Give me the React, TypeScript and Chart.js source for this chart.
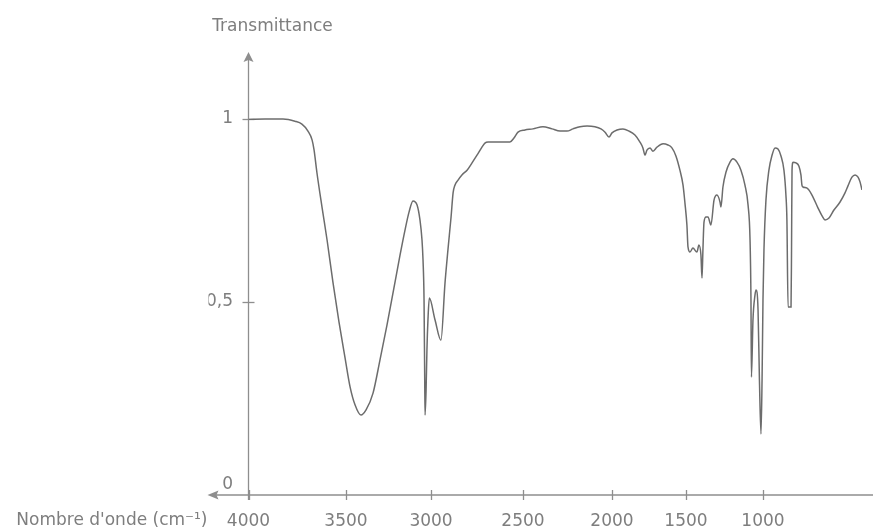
import React, { useEffect, useRef } from 'react';
import { Chart, LinearScale, registerables } from 'chart.js';

// ---- Data ----
const WAVENUMBERS = [
  4000, 3915, 3823, 3762, 3726, 3695, 3674, 3664, 3649, 3623, 3597, 3567, 3536, 3505, 3476, 3447, 3412,
  3382, 3341, 3300, 3259, 3218, 3182, 3153, 3129, 3106,
  3082, 3065, 3053, 3047, 3041, 3037, 3035, 3029, 3024, 3018,
  3010, 2978, 2946, 2924, 2908, 2891, 2880, 2870, 2853, 2832, 2804, 2777, 2750, 2723, 2707, 2690, 2625, 2571,
  2549, 2527, 2489, 2444, 2388, 2337, 2292, 2253, 2219, 2180, 2140, 2096, 2062, 2039, 2017, 2000, 1966, 1926,
  1885, 1845, 1811, 1791, 1777, 1764, 1743, 1723, 1696, 1655, 1622, 1595, 1568, 1541, 1520, 1507, 1494, 1487,
  1474, 1455, 1429, 1416, 1403, 1396, 1390, 1383, 1370, 1357, 1338, 1318, 1299, 1279, 1273, 1260, 1240, 1214,
  1195, 1169, 1143, 1117, 1097, 1084, 1078, 1075, 1065, 1052, 1045, 1032, 1023, 1013, 1006, 1000, 994, 982,
  964, 945, 927, 909, 891, 873, 861, 855, 848, 830, 827, 824, 818, 800, 782, 770, 764, 758, 733, 703, 667, 642,
  624, 600, 570, 533, 503, 485, 461, 442, 424, 412, 400,
];
const TRANSMITTANCE = [
  0.999, 1.0, 1.0, 0.994, 0.986, 0.967, 0.943, 0.916, 0.853, 0.759, 0.669, 0.554, 0.445, 0.347, 0.267, 0.218, 0.19,
  0.204, 0.25, 0.341, 0.436, 0.538, 0.628, 0.696, 0.746, 0.776,
  0.765, 0.724, 0.669, 0.614, 0.505, 0.286, 0.19, 0.258, 0.368, 0.45,
  0.51, 0.45, 0.395, 0.551, 0.642, 0.732, 0.798, 0.819, 0.833, 0.847, 0.86, 0.88, 0.901, 0.923, 0.934, 0.937, 0.937, 0.937,
  0.948, 0.964, 0.97, 0.973, 0.979, 0.973, 0.967, 0.967, 0.973, 0.979, 0.981, 0.979, 0.973, 0.964, 0.951, 0.962, 0.97, 0.973,
  0.967, 0.956, 0.937, 0.921, 0.901, 0.915, 0.921, 0.912, 0.923, 0.932, 0.929, 0.921, 0.899, 0.86, 0.819, 0.77, 0.71, 0.65,
  0.636, 0.647, 0.636, 0.655, 0.628, 0.565, 0.642, 0.718, 0.732, 0.732, 0.71, 0.778, 0.792, 0.773, 0.759, 0.814, 0.855, 0.882,
  0.891, 0.882, 0.86, 0.819, 0.765, 0.669, 0.505, 0.294, 0.45, 0.518, 0.532, 0.477, 0.286, 0.138, 0.286, 0.505, 0.642, 0.778,
  0.86, 0.901, 0.921, 0.918, 0.899, 0.86, 0.792, 0.724, 0.486, 0.486, 0.642, 0.86, 0.882, 0.88, 0.871, 0.847, 0.819, 0.814, 0.811, 0.792, 0.757, 0.735,
  0.724, 0.729, 0.751, 0.773, 0.798, 0.817, 0.841, 0.847, 0.841, 0.828, 0.806,
];

const X_TICKS = [4000, 3500, 3000, 2500, 2000, 1500, 1000];
const X_TICK_LABELS = ['4000', '3500', '3000', '2500', '2000', '1500', '1000'];
const Y_TICKS = [0, 0.5, 1];
const Y_TICK_LABELS = ['0', '0,5', '1'];
const X_TITLE = "Nombre d'onde (cm\u207B\u00B9)";
const Y_TITLE = 'Transmittance';

// The printed wavenumber axis is not strictly linear: breakpoints and their
// fractional position along the axis.
const WARP_WAVE = [4000, 3500, 3000, 2500, 2000, 1500, 1000, 400];
const WARP_FRAC = [0, 0.1589, 0.2975, 0.4474, 0.5925, 0.7131, 0.8386, 1];

function waveToFrac(w: number): number {
  const n = WARP_WAVE.length;
  for (let i = 0; i < n - 1; i++) {
    const a = WARP_WAVE[i], b = WARP_WAVE[i + 1];
    if (w >= b || i === n - 2) {
      return WARP_FRAC[i] + ((a - w) / (a - b)) * (WARP_FRAC[i + 1] - WARP_FRAC[i]);
    }
  }
  return 0;
}
function fracToWave(f: number): number {
  const n = WARP_FRAC.length;
  for (let i = 0; i < n - 1; i++) {
    const a = WARP_FRAC[i], b = WARP_FRAC[i + 1];
    if (f <= b || i === n - 2) {
      return WARP_WAVE[i] + ((f - a) / (b - a)) * (WARP_WAVE[i + 1] - WARP_WAVE[i]);
    }
  }
  return WARP_WAVE[0];
}

class WaveScale extends LinearScale {
  static id = 'wave';
  static defaults = {};
  getPixelForValue(value: any) {
    if (value === null || value === undefined || Number.isNaN(value)) return NaN;
    return this.getPixelForDecimal(waveToFrac(+value));
  }
  getValueForPixel(pixel: number) {
    return fracToWave(this.getDecimalForPixel(pixel));
  }
}

Chart.register(...registerables, WaveScale as any);

const FONT = 'DejaVu Sans';
const TEXT_COLOR = '#7e7e7e';
const AXIS_COLOR = '#8e8e8e';
const CURVE_COLOR = '#6c6c6c';

const axesPlugin = {
  id: 'mathAxes',
  beforeDatasetsDraw(chart: any) {
    const { ctx, chartArea } = chart;
    const xs = chart.scales.x;
    const ys = chart.scales.y;
    const ox = xs.getPixelForValue(X_TICKS[0]);
    const oy = chartArea.bottom;
    ctx.save();
    ctx.strokeStyle = AXIS_COLOR;
    ctx.fillStyle = AXIS_COLOR;
    ctx.lineWidth = 1.3;
    // y axis
    ctx.beginPath();
    ctx.moveTo(ox, oy + 5);
    ctx.lineTo(ox, chartArea.top + 4);
    ctx.stroke();
    ctx.beginPath();
    ctx.moveTo(ox, chartArea.top - 1);
    ctx.lineTo(ox - 5, chartArea.top + 9);
    ctx.lineTo(ox, chartArea.top + 7);
    ctx.lineTo(ox + 5, chartArea.top + 9);
    ctx.closePath();
    ctx.fill();
    // x axis
    ctx.beginPath();
    ctx.moveTo(ox - 36, oy);
    ctx.lineTo(chart.width, oy);
    ctx.stroke();
    ctx.beginPath();
    ctx.moveTo(ox - 41, oy);
    ctx.lineTo(ox - 30, oy - 4.5);
    ctx.lineTo(ox - 32, oy);
    ctx.lineTo(ox - 30, oy + 4.5);
    ctx.closePath();
    ctx.fill();
    // x tick marks
    X_TICKS.forEach((v) => {
      const px = Math.round(xs.getPixelForValue(v)) + 0.5;
      ctx.beginPath();
      ctx.moveTo(px, oy - 5);
      ctx.lineTo(px, oy + 5);
      ctx.stroke();
    });
    // y tick marks
    Y_TICKS.filter((v) => v !== 0).forEach((v) => {
      const py = Math.round(ys.getPixelForValue(v)) + 0.5;
      ctx.beginPath();
      ctx.moveTo(ox - 6, py);
      ctx.lineTo(ox + 6, py);
      ctx.stroke();
    });
    // titles
    ctx.fillStyle = TEXT_COLOR;
    ctx.font = `17px "${FONT}"`;
    ctx.textAlign = 'right';
    ctx.textBaseline = 'middle';
    ctx.fillText(X_TITLE, ox - 41, oy + 26);
    ctx.textAlign = 'center';
    ctx.textBaseline = 'alphabetic';
    ctx.fillText(Y_TITLE, ox + 24, chartArea.top - 22);
    ctx.restore();
  },
};

export default function App() {
  const ref = useRef<HTMLCanvasElement>(null);
  useEffect(() => {
    if (!ref.current) return;
    const data = WAVENUMBERS.map((w, i) => ({ x: w, y: TRANSMITTANCE[i] }));
    const chart = new Chart(ref.current, {
      type: 'line',
      data: {
        datasets: [
          {
            data,
            borderColor: CURVE_COLOR,
            borderWidth: 1.5,
            pointRadius: 0,
            fill: false,
            cubicInterpolationMode: 'monotone',
          } as any,
        ],
      },
      options: {
        animation: false,
        responsive: false,
        devicePixelRatio: 1,
        layout: { padding: { left: 208.5, right: 11, top: 53, bottom: 0 } },
        plugins: { legend: { display: false }, tooltip: { enabled: false } },
        scales: {
          x: {
            type: 'wave' as any,
            min: 400,
            max: 4000,
            grid: { display: false, drawTicks: false },
            border: { display: false },
            afterFit: (s: any) => { s.height = 34; },
            afterBuildTicks: (s: any) => { s.ticks = X_TICKS.map((v) => ({ value: v })); },
            ticks: {
              autoSkip: false,
              maxRotation: 0,
              padding: 16,
              color: TEXT_COLOR,
              font: { family: FONT, size: 17 },
              callback: (_v: any, i: number) => X_TICK_LABELS[i],
            },
          } as any,
          y: {
            type: 'linear',
            min: -0.0287,
            max: 1.1806,
            grid: { display: false, drawTicks: false },
            border: { display: false },
            afterFit: (s: any) => { s.width = 40; },
            afterBuildTicks: (s: any) => { s.ticks = Y_TICKS.map((v) => ({ value: v })); },
            ticks: {
              padding: 15.5,
              color: TEXT_COLOR,
              font: { family: FONT, size: 17 },
              callback: (_v: any, i: number) => Y_TICK_LABELS[i],
            },
          },
        },
      },
      plugins: [axesPlugin],
    });
    return () => chart.destroy();
  }, []);
  return (
    <canvas
      ref={ref}
      width={873}
      height={529}
      style={{ position: 'fixed', left: 0, top: 0, display: 'block' }}
    />
  );
}
